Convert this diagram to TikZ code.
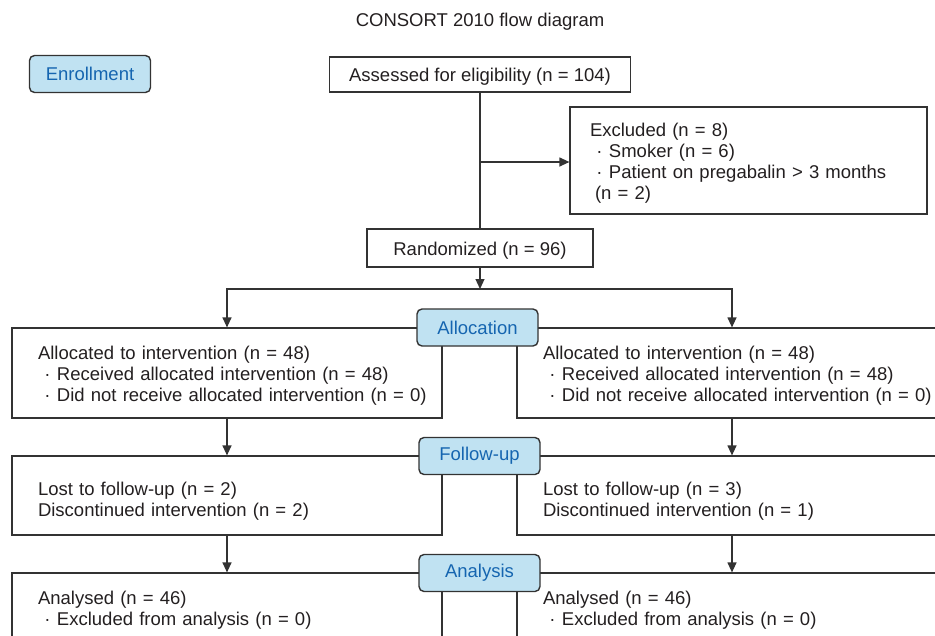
\documentclass[tikz,border=0pt]{standalone}
\usepackage{fontspec}
\setmainfont{Liberation Sans}
\usetikzlibrary{arrows.meta}
\definecolor{stagefill}{HTML}{C0E2F2}
\definecolor{stagetext}{HTML}{1565B0}
\definecolor{edge}{HTML}{333333}
\definecolor{ink}{HTML}{231F20}
\newcommand{\itm}{\makebox[19pt]{·}}

\begin{document}
\begin{tikzpicture}[x=1pt,y=-1pt,
    every node/.style={font=\fontsize{18.5pt}{21pt}\selectfont, text=ink},
    box/.style={draw=edge, line width=1.2pt, rectangle, inner sep=0pt, text height=18.6pt},
    txtbox/.style={box, align=left, text width=378pt, inner xsep=26pt},
    stage/.style={draw=edge, line width=1.4pt, rounded corners=5pt, fill=stagefill, text=stagetext,
        minimum width=121pt, minimum height=37pt, inner sep=0pt},
    link/.style={draw=edge, line width=1.2pt},
    arr/.style={link, -{Triangle[length=10pt,width=9pt]}}]
        \useasboundingbox (0,0) rectangle (935,635);
        \clip (0,0) rectangle (935,635);
        \node (title) at (480,22) {CONSORT 2010 flow diagram};
        \node [box, inner xsep=20pt, minimum height=35pt] (assess) at (480,74.5) {Assessed for eligibility (n = 104)};
        \node [box, align=left, text width=317pt, inner xsep=20pt, minimum height=107pt] (excl) at (748.5,160.5)
            {Excluded (n = 8)\\ \itm Smoker (n = 6)\\ \itm Patient on pregabalin > 3 months\\ \hspace*{5pt}(n = 2)};
        \node [box, minimum width=226pt, minimum height=38pt] (random) at (480,248) {Randomized (n = 96)};
        \node [txtbox, minimum height=90pt] (allocL) at (227,373)
            {Allocated to intervention (n = 48)\\ \itm Received allocated intervention (n = 48)\\ \mbox{\itm Did not receive allocated intervention (n = 0)}};
        \node [txtbox, minimum height=90pt] (allocR) at (732,373)
            {Allocated to intervention (n = 48)\\ \itm Received allocated intervention (n = 48)\\ \mbox{\itm Did not receive allocated intervention (n = 0)}};
        \node [txtbox, minimum height=79pt, text height=25pt] (followL) at (227,495.5) {Lost to follow-up (n = 2)\\Discontinued intervention (n = 2)};
        \node [txtbox, minimum height=79pt, text height=25pt] (followR) at (732,495.5) {Lost to follow-up (n = 3)\\Discontinued intervention (n = 1)};
        \node [txtbox, minimum height=70pt] (analyL) at (227,608) {Analysed (n = 46)\\ \itm Excluded from analysis (n = 0)};
        \node [txtbox, minimum height=70pt] (analyR) at (732,608) {Analysed (n = 46)\\ \itm Excluded from analysis (n = 0)};
        \node [stage] (enrol) at (90,74) {Enrollment};
        \node [stage] (alloc) at (477.5,327.5) {Allocation};
        \node [stage] (follow) at (479.5,456) {Follow-up};
        \node [stage] (analy) at (479.5,573) {Analysis};
        \coordinate (branch) at (480,162);
        \coordinate (split) at (480,289);
        \draw [link] (assess) -- (random);
        \draw [arr] (branch) -- (excl.west |- branch);
        \draw [arr] (random) -- (split);
        \draw [arr] (split) -| (allocL);
        \draw [arr] (split) -| (allocR);
        \draw [arr] (allocL) -- (followL);
        \draw [arr] (allocR) -- (followR);
        \draw [arr] (followL) -- (analyL);
        \draw [arr] (followR) -- (analyR);
\end{tikzpicture}
\end{document}
